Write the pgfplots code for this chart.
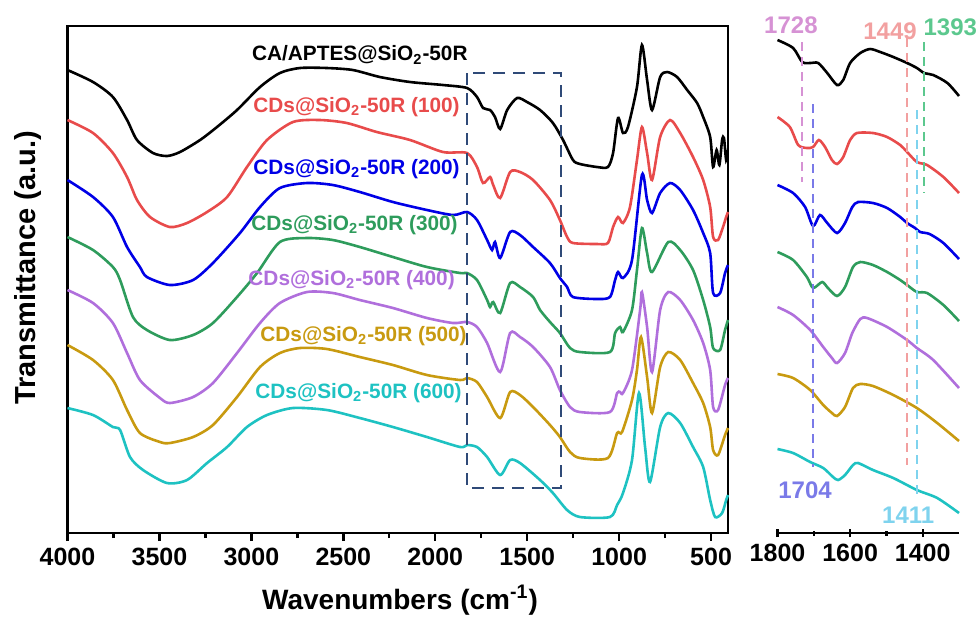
\documentclass[border=0pt]{standalone}
\usepackage{fontspec}
\setmainfont{Liberation Sans}
\usepackage{pgfplots}
\pgfplotsset{compat=1.18}
\definecolor{cred}{HTML}{E84B4B}
\definecolor{cblue}{HTML}{0000E6}
\definecolor{cgreen}{HTML}{2E9C5C}
\definecolor{cpurple}{HTML}{B06FDC}
\definecolor{cgold}{HTML}{C89A10}
\definecolor{ccyan}{HTML}{1EC2C2}
\definecolor{cbox}{HTML}{2F4A78}
\definecolor{lA}{HTML}{D692D4}
\definecolor{lB}{HTML}{F2A0A0}
\definecolor{lC}{HTML}{5CC88E}
\definecolor{lD}{HTML}{7A7AE8}
\definecolor{lE}{HTML}{7FD3EE}

\pgfplotstableread{
w y
4000 70
3861 82
3753 97
3676 120
3622 140
3535 153
3459 156
3388 152
3279 140
3187 127
3078 110
2953 87
2845 73
2736 68
2589 68
2448 70
2301 77
2137 82
1958 85
1827 88
1773 97
1740 108
1702 110
1675 117
1647 129
1609 110
1555 98
1501 102
1430 110
1360 123
1305 140
1251 160
1213 164
1120 167
1061 167
1033 153
1006 118
979 133
952 127
903 87
876 45
848 80
821 110
777 77
739 72
685 77
630 90
576 103
543 117
505 137
489 167
470 150
455 165
440 140
430 138
418 160
410 150
}\tK

\pgfplotstableread{
w y
4000 120
3861 133
3753 153
3676 177
3622 200
3551 217
3443 227
3350 223
3241 212
3132 197
3024 167
2915 140
2774 122
2628 120
2481 123
2318 132
2137 140
1958 152
1827 153
1773 167
1740 183
1702 177
1685 185
1647 198
1593 172
1539 172
1468 180
1376 200
1322 220
1283 237
1251 243
1120 244
1061 243
1033 227
1006 217
979 223
941 207
903 160
876 127
848 153
821 180
777 137
723 120
668 133
598 157
543 180
505 207
489 237
462 240
435 227
418 217
408 212
}\tR

\pgfplotstableread{
w y
4000 180
3861 197
3753 217
3676 247
3606 267
3568 277
3443 285
3317 280
3209 263
3062 233
2953 207
2845 188
2698 183
2557 185
2410 192
2230 202
2045 210
1903 215
1827 212
1773 220
1718 240
1691 250
1675 242
1647 258
1593 232
1539 235
1468 247
1376 263
1322 278
1283 287
1251 297
1120 299
1050 297
1022 280
1006 272
979 278
930 260
876 175
848 200
821 213
777 193
723 183
668 190
598 210
543 233
505 253
489 293
451 293
424 273
408 265
}\tB

\pgfplotstableread{
w y
4000 237
3861 250
3753 267
3714 280
3644 317
3568 330
3443 340
3317 335
3209 323
3078 297
2969 273
2845 242
2698 238
2557 240
2410 247
2230 257
2045 267
1865 273
1827 273
1773 280
1718 300
1702 307
1685 302
1647 313
1593 283
1539 287
1468 297
1430 310
1376 322
1322 333
1267 348
1213 352
1050 352
1022 333
995 327
979 332
930 310
903 270
876 228
848 253
821 272
733 242
668 250
598 270
543 300
505 327
489 348
451 350
424 330
408 320
}\tG

\pgfplotstableread{
w y
4000 290
3861 303
3753 323
3676 353
3606 380
3497 398
3443 403
3317 397
3209 383
3078 353
2953 323
2845 303
2698 292
2557 293
2410 300
2230 308
2045 318
1903 323
1827 322
1773 327
1718 343
1647 372
1593 333
1539 337
1468 347
1376 367
1322 390
1267 407
1213 412
1050 412
1011 393
995 392
979 393
930 370
886 310
876 292
848 327
821 372
777 310
733 292
668 300
598 320
543 343
505 370
489 407
462 410
424 385
408 378
}\tP

\pgfplotstableread{
w y
4000 345
3861 360
3753 380
3676 410
3606 433
3497 442
3443 443
3317 437
3209 425
3078 397
2953 367
2845 353
2736 348
2589 349
2410 357
2230 365
2045 375
1865 380
1827 378
1773 382
1718 397
1647 418
1593 392
1539 395
1468 407
1376 425
1322 437
1267 452
1213 458
1061 458
1011 433
984 432
930 400
903 370
881 337
848 377
821 413
777 367
733 352
668 360
598 383
543 403
505 427
489 450
462 455
424 435
408 428
}\tY

\pgfplotstableread{
w y
4000 408
3861 415
3753 427
3714 430
3660 457
3589 470
3459 483
3350 480
3241 463
3132 447
3024 427
2915 415
2774 408
2589 410
2410 418
2230 427
2045 437
1865 447
1827 445
1773 447
1718 457
1647 475
1593 460
1539 463
1430 480
1360 493
1283 510
1213 517
1050 517
1011 505
979 493
930 460
892 393
859 447
832 482
777 427
733 413
668 423
598 447
543 467
505 500
478 517
440 513
418 500
408 495
}\tC

% ---- right panel ----
\pgfplotstableread{
w y
1800 40
1757 48
1732 62
1710 63
1688 63
1663 73
1636 85
1619 80
1600 63
1572 53
1545 49
1517 52
1481 57
1443 63
1416 68
1396 73
1371 75
1332 83
1300 96
}\rK

\pgfplotstableread{
w y
1800 117
1766 127
1743 145
1719 148
1702 147
1686 140
1669 147
1650 160
1636 164
1619 157
1600 140
1581 133
1537 133
1498 137
1462 145
1443 152
1416 162
1388 165
1343 177
1300 193
}\rR

\pgfplotstableread{
w y
1800 185
1757 193
1724 207
1702 226
1683 215
1663 223
1636 233
1614 223
1594 207
1578 202
1537 203
1498 208
1462 217
1443 223
1421 228
1407 232
1381 234
1343 243
1300 259
}\rB

\pgfplotstableread{
w y
1800 252
1757 260
1719 277
1702 288
1677 282
1661 288
1636 296
1614 287
1592 267
1572 262
1537 265
1498 272
1462 280
1443 285
1416 292
1388 293
1343 305
1300 321
}\rG

\pgfplotstableread{
w y
1800 307
1757 315
1710 330
1674 347
1650 358
1636 363
1614 353
1594 333
1572 319
1553 318
1498 327
1443 340
1416 348
1371 360
1300 388
}\rP

\pgfplotstableread{
w y
1800 374
1757 378
1710 390
1674 405
1650 413
1636 416
1614 407
1592 388
1572 384
1537 386
1481 395
1416 408
1360 423
1300 441
}\rY

\pgfplotstableread{
w y
1800 449
1757 453
1710 462
1674 468
1647 477
1633 480
1614 475
1592 465
1578 463
1537 470
1481 478
1416 490
1360 498
1300 513
}\rC

\begin{document}
\begin{tikzpicture}
\path[use as bounding box] (0,0) rectangle (489pt,-308.5pt);
\pgfplotsset{
  common/.style={
    scale only axis, anchor=south west, height=253.5pt,
    x dir=reverse, ymin=26, ymax=533, y dir=reverse,
    tick align=outside, major tick length=4pt, minor tick length=2.5pt,
    every tick/.style={line width=1.2pt, black},
    minor x tick num=1,
    ytick=\empty,
    tick label style={font=\fontsize{12.5}{14}\selectfont\bfseries},
    /pgf/number format/assume math mode=true,
    /pgf/number format/set thousands separator={},
    clip=false,
    every axis plot/.append style={line width=1.3pt, smooth, tension=0.45},
  }
}
\begin{axis}[common,
  at={(33.75pt,-266.5pt)}, width=330.25pt,
  xmin=408, xmax=4000,
  xtick={500,1000,...,4000},
  xtick pos=left,
  axis line style={line width=1.4pt},
]
\addplot[black] table {\tK};
\addplot[cred] table {\tR};
\addplot[cblue] table {\tB};
\addplot[cgreen] table {\tG};
\addplot[cpurple] table {\tP};
\addplot[cgold] table {\tY};
\addplot[ccyan] table {\tC};
\draw[cbox, line width=1.3pt, dash pattern=on 6pt off 4pt] (axis cs:1827,73) rectangle (axis cs:1316,488);
\begin{scope}[every node/.style={anchor=east, font=\fontsize{10.4}{12}\selectfont\bfseries, inner sep=0pt}]
\node[text=black] at (axis cs:1822,55) {CA/APTES@SiO\textsubscript{2}-50R};
\node[text=cred] at (axis cs:1865,107) {CDs@SiO\textsubscript{2}-50R (100)};
\node[text=cblue] at (axis cs:1865,169) {CDs@SiO\textsubscript{2}-50R (200)};
\node[text=cgreen] at (axis cs:1876,225) {CDs@SiO\textsubscript{2}-50R (300)};
\node[text=cpurple] at (axis cs:1892,280) {CDs@SiO\textsubscript{2}-50R (400)};
\node[text=cgold] at (axis cs:1827,336) {CDs@SiO\textsubscript{2}-50R (500)};
\node[text=ccyan] at (axis cs:1854,393) {CDs@SiO\textsubscript{2}-50R (600)};
\end{scope}
\end{axis}

\begin{axis}[common,
  at={(388.75pt,-266.5pt)}, width=90.75pt,
  xmin=1300, xmax=1800,
  xtick={1400,1600,1800},
  axis x line=bottom, axis y line=none,
  x axis line style={-, line width=1.4pt},
]
\addplot[black] table {\rK};
\addplot[cred] table {\rR};
\addplot[cblue] table {\rB};
\addplot[cgreen] table {\rG};
\addplot[cpurple] table {\rP};
\addplot[cgold] table {\rY};
\addplot[ccyan] table {\rC};
\begin{scope}[line width=1.1pt, dash pattern=on 4.5pt off 3pt]
\draw[lA] (axis cs:1732,42) -- (axis cs:1732,182);
\draw[lD] (axis cs:1702,104) -- (axis cs:1702,467);
\draw[lB] (axis cs:1443,38) -- (axis cs:1443,465);
\draw[lC] (axis cs:1396,42) -- (axis cs:1396,193);
\draw[lE] (axis cs:1415,110) -- (axis cs:1415,498);
\end{scope}
\begin{scope}[every node/.style={font=\fontsize{12}{14}\selectfont\bfseries, inner sep=0pt}]
\node[text=lA] at (axis cs:1763,25) {1728};
\node[text=lB] at (axis cs:1490,31) {1449};
\node[text=lC] at (axis cs:1324,27) {1393};
\node[text=lD] at (axis cs:1724,490) {1704};
\node[text=lE] at (axis cs:1440,515) {1411};
\end{scope}
\end{axis}

\node[font=\fontsize{14}{16}\selectfont\bfseries] at (200pt,-300pt) {Wavenumbers (cm\textsuperscript{-1})};
\node[font=\fontsize{14.5}{16}\selectfont\bfseries, rotate=90] at (14pt,-134pt) {Transmittance (a.u.)};
\end{tikzpicture}
\end{document}
